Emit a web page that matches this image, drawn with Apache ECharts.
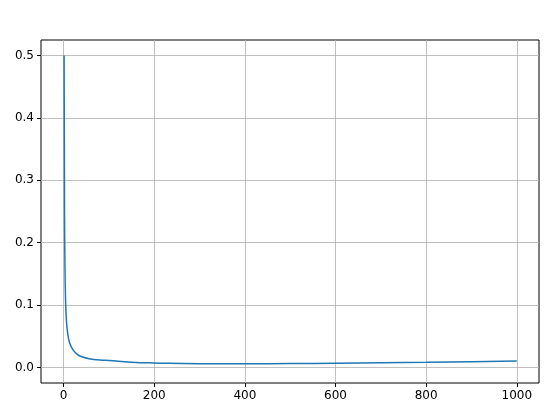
<!DOCTYPE html>
<html>
<head>
<meta charset="utf-8">
<script src="https://cdn.jsdelivr.net/npm/echarts@6/dist/echarts.min.js"></script>
<style>html,body{margin:0;padding:0;background:#fff}#chart{width:547px;height:413px}</style>
</head>
<body>
<div id="chart"></div>
<script>
// valores
var xs = [1, 2, 3, 4, 5, 7, 10, 13, 20, 30, 40, 60, 80, 100, 150, 200, 300, 400, 500, 600, 700, 800, 900, 1000]
var ys = [0.5, 0.24, 0.16, 0.115, 0.092, 0.067, 0.05, 0.04, 0.029, 0.021, 0.017, 0.0135, 0.012, 0.011, 0.0085, 0.0073, 0.006, 0.0058, 0.0062, 0.0068, 0.0075, 0.0083, 0.0092, 0.0102]
var xTicks = [0, 200, 400, 600, 800, 1000]
var yTicks = [0, 0.1, 0.2, 0.3, 0.4, 0.5]

var datos = xs.map(function(x, i){ return [x, ys[i]] })
var fuente = {fontFamily: 'DejaVu Sans', fontSize: 12, color: '#000'}

var chart = echarts.init(document.getElementById('chart'))
chart.setOption({
	animation: false,
	grid: {left: 41, right: 8, top: 40, bottom: 30, show: true, borderColor: '#000', borderWidth: 1, backgroundColor: '#fff'},
	xAxis: {
		type: 'value', min: -49.95, max: 1048.95,
		axisLine: {show: false, onZero: false},
		axisTick: {show: true, inside: false, length: 4, lineStyle: {color: '#000'}, customValues: xTicks},
		axisLabel: Object.assign({customValues: xTicks, margin: 7, formatter: function(v){ return String(Math.round(v)) }}, fuente),
		splitLine: {show: true, lineStyle: {color: '#b0b0b0', width: 0.8}}
	},
	yAxis: {
		type: 'value', min: -0.02495, max: 0.52495,
		axisLine: {show: false, onZero: false},
		axisTick: {show: true, inside: false, length: 4, lineStyle: {color: '#000'}, customValues: yTicks},
		axisLabel: Object.assign({customValues: yTicks, margin: 7, formatter: function(v){ return v.toFixed(1) }}, fuente),
		splitLine: {show: true, lineStyle: {color: '#b0b0b0', width: 0.8}}
	},
	series: [{
		type: 'line', data: datos, showSymbol: false, smooth: true,
		lineStyle: {color: '#1f77b4', width: 1.5}
	}]
})
</script>
</body>
</html>
